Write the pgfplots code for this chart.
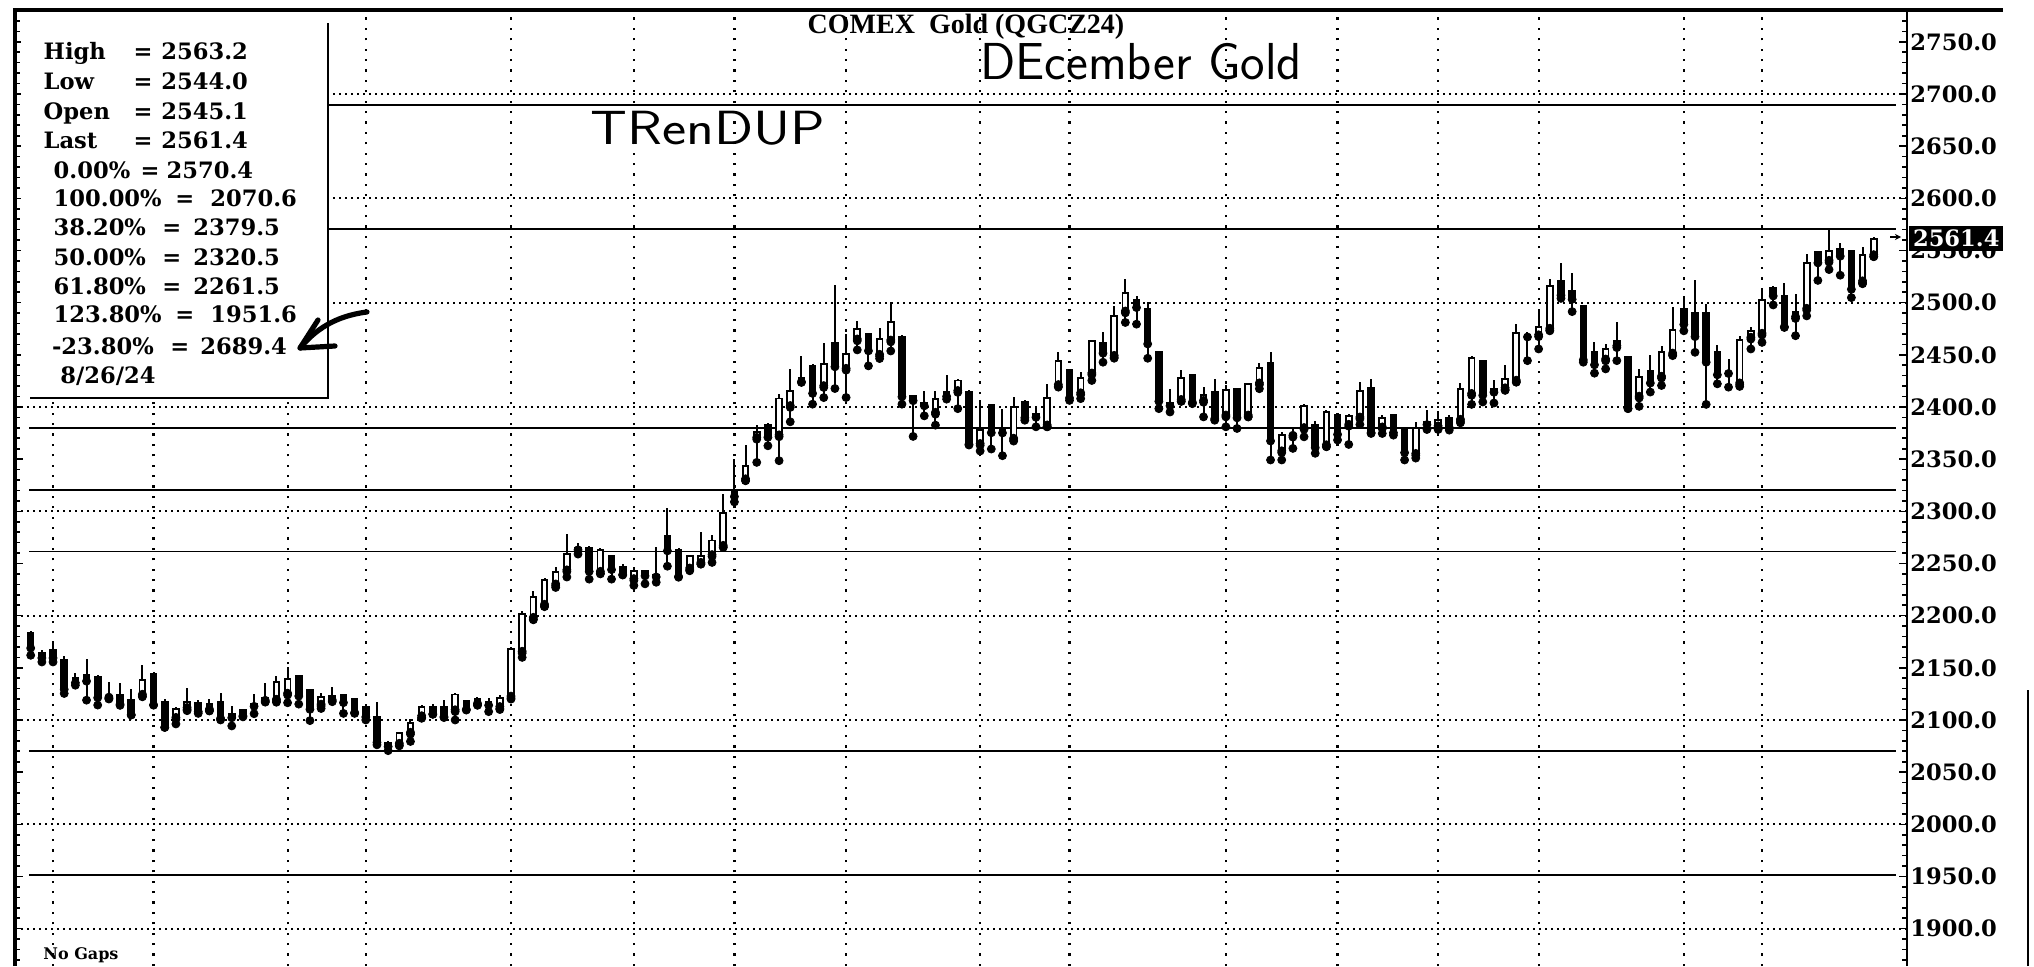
\documentclass[border=0pt]{standalone}
\usepackage{fontspec}
\usepackage{graphicx}
\usepackage{pgfplots}
\pgfplotsset{compat=1.18}
\usepackage{pgfplotstable}
\usetikzlibrary{arrows.meta}
\newfontfamily\dvs{DejaVu Serif}
\newfontfamily\lsf{Liberation Serif}

\pgfplotstableread{
i O H L C
1 2183.5 2185.0 2162.0 2169.8
2 2164.1 2166.7 2155.6 2160.3
3 2167.6 2173.0 2155.6 2160.3
4 2157.1 2161.3 2125.4 2130.2
5 2140.3 2145.4 2133.3 2136.5
6 2142.9 2158.7 2119.0 2138.1
7 2141.3 2142.9 2114.3 2122.2
8 2121.0 2136.5 2120.5 2123.0
9 2124.0 2135.0 2114.0 2116.0
10 2119.0 2130.0 2104.8 2105.7
11 2123.8 2152.4 2122.2 2138.1
12 2144.4 2146.0 2114.3 2115.2
13 2117.5 2119.7 2093.0 2093.7
14 2101.6 2112.1 2096.2 2110.2
15 2111.1 2130.2 2108.9 2117.5
16 2116.5 2119.0 2106.3 2108.9
17 2109.5 2119.7 2108.9 2115.2
18 2117.5 2125.4 2100.0 2102.5
19 2106.0 2113.3 2094.3 2103.0
20 2109.5 2111.0 2103.0 2104.8
21 2114.0 2125.0 2106.0 2115.0
22 2118.0 2135.0 2117.5 2121.0
23 2119.0 2142.0 2117.0 2136.0
24 2124.8 2151.0 2116.5 2139.7
25 2141.9 2142.0 2115.2 2123.8
26 2128.6 2128.6 2099.4 2111.1
27 2114.3 2125.4 2111.0 2122.2
28 2123.0 2131.7 2117.5 2120.0
29 2123.8 2124.0 2106.3 2117.5
30 2120.6 2120.6 2106.3 2108.0
31 2112.7 2113.0 2100.0 2103.8
32 2102.5 2117.5 2076.2 2079.4
33 2077.8 2080.0 2070.6 2075.4
34 2076.8 2088.9 2075.2 2087.3
35 2087.3 2100.6 2079.4 2097.5
36 2103.2 2114.3 2101.6 2112.1
37 2112.7 2115.2 2105.7 2106.3
38 2112.7 2119.0 2103.2 2103.2
39 2108.9 2126.0 2100.0 2124.4
40 2118.0 2119.0 2109.5 2111.0
41 2115.0 2122.0 2114.3 2120.0
42 2117.0 2121.0 2108.0 2115.0
43 2112.0 2124.0 2110.0 2121.0
44 2122.0 2170.0 2120.0 2168.0
45 2165.0 2204.0 2160.0 2202.0
46 2197.5 2224.0 2196.0 2218.0
47 2210.0 2235.7 2208.6 2234.0
48 2229.5 2247.0 2227.0 2241.6
49 2243.0 2278.0 2237.0 2259.0
50 2265.0 2270.0 2259.0 2264.0
51 2264.6 2266.5 2235.0 2243.2
52 2241.6 2264.6 2240.0 2263.3
53 2257.0 2258.2 2235.0 2245.0
54 2247.0 2249.6 2239.0 2240.0
55 2234.6 2246.4 2228.9 2243.2
56 2243.2 2243.5 2230.5 2239.0
57 2239.0 2265.5 2232.0 2238.0
58 2276.0 2302.9 2247.4 2263.0
59 2263.0 2264.6 2236.8 2238.4
60 2244.8 2258.0 2243.0 2257.0
61 2250.2 2280.0 2249.6 2257.0
62 2257.6 2277.3 2251.0 2272.0
63 2266.5 2316.6 2265.5 2298.4
64 2320.0 2350.0 2309.0 2315.0
65 2330.3 2363.5 2329.4 2343.7
66 2370.0 2382.6 2346.9 2376.0
67 2382.6 2384.5 2362.8 2371.8
68 2372.4 2412.3 2348.5 2408.1
69 2400.5 2436.8 2385.8 2415.5
70 2428.0 2449.0 2423.5 2425.0
71 2439.4 2441.0 2402.7 2413.9
72 2419.6 2461.7 2409.0 2441.0
73 2461.7 2516.6 2417.7 2439.4
74 2436.2 2469.7 2409.1 2450.6
75 2464.3 2482.5 2454.7 2475.1
76 2469.7 2470.3 2439.4 2454.7
77 2449.6 2476.0 2446.4 2464.9
78 2463.3 2500.6 2453.7 2481.5
79 2467.5 2468.7 2402.7 2410.7
80 2410.7 2411.3 2371.8 2406.9
81 2404.0 2415.5 2391.5 2402.0
82 2394.0 2415.5 2382.6 2408.0
83 2414.0 2430.5 2407.5 2411.0
84 2414.9 2427.0 2398.4 2425.4
85 2414.3 2415.9 2363.5 2365.1
86 2364.1 2406.3 2357.8 2377.8
87 2401.6 2403.2 2359.7 2376.2
88 2378.0 2398.4 2353.3 2376.0
89 2369.2 2409.5 2367.3 2400.0
90 2404.8 2406.3 2387.3 2390.5
91 2393.0 2400.0 2381.0 2391.0
92 2381.9 2422.2 2381.0 2408.9
93 2420.6 2452.4 2419.0 2444.4
94 2435.9 2436.0 2406.3 2409.5
95 2412.7 2434.0 2408.0 2427.6
96 2431.7 2463.5 2425.4 2463.5
97 2461.3 2471.4 2442.9 2452.4
98 2448.6 2496.8 2446.7 2487.3
99 2491.1 2522.9 2481.0 2508.9
100 2502.5 2506.3 2479.4 2496.2
101 2494.3 2500.6 2446.7 2461.3
102 2453.0 2454.0 2398.4 2406.3
103 2404.0 2417.5 2395.2 2402.0
104 2406.3 2435.9 2405.4 2427.6
105 2430.8 2431.7 2403.2 2405.4
106 2405.4 2419.0 2390.5 2411.7
107 2414.3 2427.0 2387.3 2389.5
108 2391.4 2421.3 2381.0 2415.9
109 2417.5 2417.5 2379.4 2390.5
110 2391.4 2422.2 2390.5 2422.2
111 2422.2 2442.2 2417.5 2437.1
112 2442.2 2452.4 2349.2 2368.3
113 2357.1 2376.2 2349.2 2373.0
114 2372.0 2381.0 2360.3 2374.0
115 2379.4 2403.2 2371.4 2401.0
116 2383.2 2386.3 2355.6 2361.9
117 2362.9 2396.8 2361.9 2395.2
118 2392.7 2393.7 2368.3 2374.6
119 2382.5 2393.7 2364.1 2391.4
120 2389.5 2424.4 2383.2 2414.9
121 2418.1 2427.0 2374.6 2376.2
122 2380.0 2392.7 2374.6 2389.5
123 2392.0 2392.7 2373.0 2376.2
124 2379.4 2380.0 2349.2 2357.1
125 2354.6 2385.7 2351.0 2380.0
126 2385.7 2397.5 2378.4 2384.0
127 2381.0 2396.2 2378.4 2387.3
128 2389.8 2392.0 2377.8 2381.0
129 2387.3 2422.9 2384.8 2417.5
130 2412.1 2449.2 2402.5 2447.0
131 2444.4 2445.1 2404.8 2412.1
132 2417.0 2425.4 2403.8 2415.0
133 2417.5 2440.6 2415.9 2427.0
134 2424.8 2479.4 2423.8 2470.5
135 2469.0 2471.4 2444.4 2468.0
136 2468.3 2493.7 2455.6 2476.8
137 2474.6 2522.2 2473.0 2515.9
138 2520.6 2538.1 2504.1 2507.9
139 2511.7 2528.6 2491.4 2504.1
140 2496.8 2497.8 2442.9 2446.0
141 2452.4 2461.9 2432.4 2441.3
142 2445.1 2460.3 2436.5 2455.6
143 2457.8 2481.9 2444.4 2463.5
144 2447.6 2448.3 2398.4 2399.4
145 2409.5 2436.5 2400.6 2428.6
146 2434.9 2450.2 2414.3 2423.8
147 2428.6 2458.7 2420.6 2452.4
148 2450.8 2495.9 2449.2 2473.7
149 2493.7 2506.3 2473.0 2480.0
150 2490.5 2521.3 2452.4 2468.3
151 2490.5 2499.0 2402.5 2443.8
152 2452.4 2459.7 2422.2 2431.7
153 2434.0 2446.0 2419.0 2433.0
154 2422.2 2468.3 2419.7 2464.1
155 2466.0 2476.2 2455.6 2473.0
156 2469.8 2511.7 2461.9 2502.2
157 2513.7 2515.9 2497.8 2507.3
158 2506.3 2519.0 2476.2 2477.8
159 2485.7 2507.9 2468.3 2491.4
160 2493.7 2546.7 2487.3 2538.1
161 2548.6 2549.2 2521.3 2539.0
162 2539.7 2570.4 2531.7 2549.2
163 2551.7 2557.1 2526.3 2545.4
164 2549.2 2550.8 2504.8 2513.7
165 2520.0 2553.0 2518.1 2546.0
166 2545.1 2563.2 2544.0 2561.4
}\candles

\tikzset{
  hgrid/.style={line width=1pt, dash pattern=on 1pt off 2pt},
  vgrid/.style={line width=1.1pt, dash pattern=on 1.1pt off 4.1pt},
  boxtxt/.style={anchor=base west, inner sep=0pt, font=\dvs\bfseries\fontsize{11.3}{11.3}\selectfont},
}
\pgfplotsset{fib/.style={black, line width=0.95pt, mark=none, forget plot}}

\begin{document}
\begin{tikzpicture}
\begin{axis}[
  at={(0pt,0pt)}, anchor=south west,
  scale only axis, width=946pt, height=478pt,
  xmin=-0.405, xmax=168.98, ymin=1864.2, ymax=2780.5,
  axis line style={draw=none},
  xtick=\empty,
  ytick={1900,1950,...,2750},
  minor ytick={1870,1880,...,2780},
  yticklabel pos=right,
  tick align=inside,
  major tick length=4pt, minor tick length=2.5pt,
  tick style={black, line width=0.8pt},
  yticklabel style={font=\dvs\bfseries\fontsize{11.3}{12}\selectfont, anchor=west, inner sep=0pt, xshift=1.5pt},
  yticklabel={\pgfmathprintnumber[fixed,fixed zerofill,precision=1,1000 sep={},assume math mode=true]{\tick}},
  clip=false,
]
% dotted grid
\pgfplotsinvokeforeach{1900,2000,...,2700}{
  \draw[hgrid] (axis cs:-0.405,#1) -- (axis cs:168.98,#1);
}
\pgfplotsinvokeforeach{3,12,24,31,44,55,64,74,86,94,108,118,127,136,149,156}{
  \draw[vgrid] (axis cs:#1,1864.2) -- (axis cs:#1,2780.5);
}
% retracement levels
\addplot[fib] coordinates {(0.85,2689.4) (168,2689.4)};
\addplot[fib] coordinates {(0.85,2570.4) (168,2570.4)};
\addplot[fib] coordinates {(0.85,2379.5) (168,2379.5)};
\addplot[fib] coordinates {(0.85,2320.5) (168,2320.5)};
\addplot[fib] coordinates {(0.85,2261.5) (168,2261.5)};
\addplot[fib] coordinates {(0.85,2070.6) (168,2070.6)};
\addplot[fib] coordinates {(0.85,1951.6) (168,1951.6)};
% wicks
\addplot[only marks, mark=none, forget plot,
  error bars/.cd, y dir=plus, y explicit, error mark=none,
  error bar style={line width=1pt, black}]
  table[x=i, y=L, y error expr=\thisrow{H}-\thisrow{L}] {\candles};
% down bodies
\addplot[only marks, mark=none, forget plot,
  restrict expr to domain={\thisrow{O}-\thisrow{C}}{0.001:10000},
  error bars/.cd, y dir=plus, y explicit, error mark=none,
  error bar style={line width=3.8pt, black}]
  table[x=i, y expr=\thisrow{C}-0.9, y error expr=\thisrow{O}-\thisrow{C}+1.8] {\candles};
% up bodies (outline)
\addplot[only marks, mark=none, forget plot,
  restrict expr to domain={\thisrow{C}-\thisrow{O}}{0:10000},
  error bars/.cd, y dir=plus, y explicit, error mark=none,
  error bar style={line width=3.8pt, black}]
  table[x=i, y expr=\thisrow{O}-0.9, y error expr=\thisrow{C}-\thisrow{O}+1.8] {\candles};
% up bodies (hollow)
\addplot[only marks, mark=none, forget plot,
  restrict expr to domain={\thisrow{C}-\thisrow{O}}{1.9:10000},
  error bars/.cd, y dir=plus, y explicit, error mark=none,
  error bar style={line width=1.9pt, white}]
  table[x=i, y expr=\thisrow{O}+0.9, y error expr=\thisrow{C}-\thisrow{O}-1.8] {\candles};
\end{axis}

% info box
\fill[white] (3pt,284pt) rectangle (156.5pt,477pt);
\draw[line width=1pt] (7.5pt,284pt) -- (156.5pt,284pt) -- (156.5pt,471.5pt);
\node[boxtxt] at (14.15pt,453pt) {\makebox[45pt][l]{High}\makebox[13.85pt][l]{=}2563.2};
\node[boxtxt] at (14.15pt,438.35pt) {\makebox[45pt][l]{Low}\makebox[13.85pt][l]{=}2544.0};
\node[boxtxt] at (14.15pt,423.35pt) {\makebox[45pt][l]{Open}\makebox[13.85pt][l]{=}2545.1};
\node[boxtxt] at (14.15pt,408.85pt) {\makebox[45pt][l]{Last}\makebox[13.85pt][l]{=}2561.4};
\node[boxtxt] at (19.15pt,393.85pt) {\makebox[43.5pt][l]{0.00\%}\makebox[13pt][l]{=}2570.4};
\node[boxtxt] at (19.15pt,379.65pt) {\makebox[60.85pt][l]{100.00\%}\makebox[17.5pt][l]{=}2070.6};
\node[boxtxt] at (19.15pt,365pt) {\makebox[54.35pt][l]{38.20\%}\makebox[15.5pt][l]{=}2379.5};
\node[boxtxt] at (19.15pt,350.5pt) {\makebox[54.35pt][l]{50.00\%}\makebox[15.5pt][l]{=}2320.5};
\node[boxtxt] at (19.15pt,336pt) {\makebox[54.35pt][l]{61.80\%}\makebox[15.5pt][l]{=}2261.5};
\node[boxtxt] at (19.15pt,321.65pt) {\makebox[60.85pt][l]{123.80\%}\makebox[17.5pt][l]{=}1951.6};
\node[boxtxt] at (18.35pt,306pt) {\makebox[59.15pt][l]{-23.80\%}\makebox[15pt][l]{=}2689.4};
\node[boxtxt] at (22.5pt,291.35pt) {8/26/24};

% hand-drawn arrow
\draw[line width=2.6pt, line cap=round, line join=round] (176pt,327pt) .. controls (160pt,325pt) and (150pt,318pt) .. (142.5pt,309pt);
\draw[line width=2.6pt, line cap=round, line join=round] (151.5pt,323pt) -- (142.5pt,309pt) -- (160pt,310pt);

% title and annotations
\node[anchor=base, inner sep=0pt, font=\lsf\bfseries\fontsize{14}{14}\selectfont] at (475.5pt,466pt) {COMEX\ \ Gold (QGCZ24)};
\node[anchor=base, inner sep=0pt, font=\sffamily\fontsize{26}{26}\selectfont] at (563pt,443pt) {DEcember Gold};
\node[anchor=base, inner sep=0pt, font=\sffamily\fontsize{24}{24}\selectfont] at (346.5pt,410.5pt) {\scalebox{1.2}[1]{TRenDUP}};
\node[anchor=base west, inner sep=0pt, font=\dvs\bfseries\fontsize{8}{8}\selectfont] at (14pt,3.5pt) {No Gaps};

% last price marker
\draw[line width=0.6pt, -{Stealth[length=3pt,width=3pt]}] (937.5pt,364.5pt) -- (943pt,364.5pt);
\node[fill=black, text=white, anchor=west, inner sep=1.8pt, font=\dvs\bfseries\fontsize{11.3}{12}\selectfont] at (947pt,363.7pt) {2561.4};

% frame
\draw[line width=2.2pt] (0pt,0pt) -- (0pt,478pt);
\draw[line width=0.9pt] (946pt,0pt) -- (946pt,478pt);
\draw[line width=1.7pt] (-1.1pt,478pt) -- (994pt,478pt);
\draw[line width=0.8pt] (1006.5pt,0pt) -- (1006.5pt,138pt);

\pgfresetboundingbox
\path[use as bounding box] (-7.5pt,0pt) rectangle (1009.5pt,483pt);
\end{tikzpicture}
\end{document}
